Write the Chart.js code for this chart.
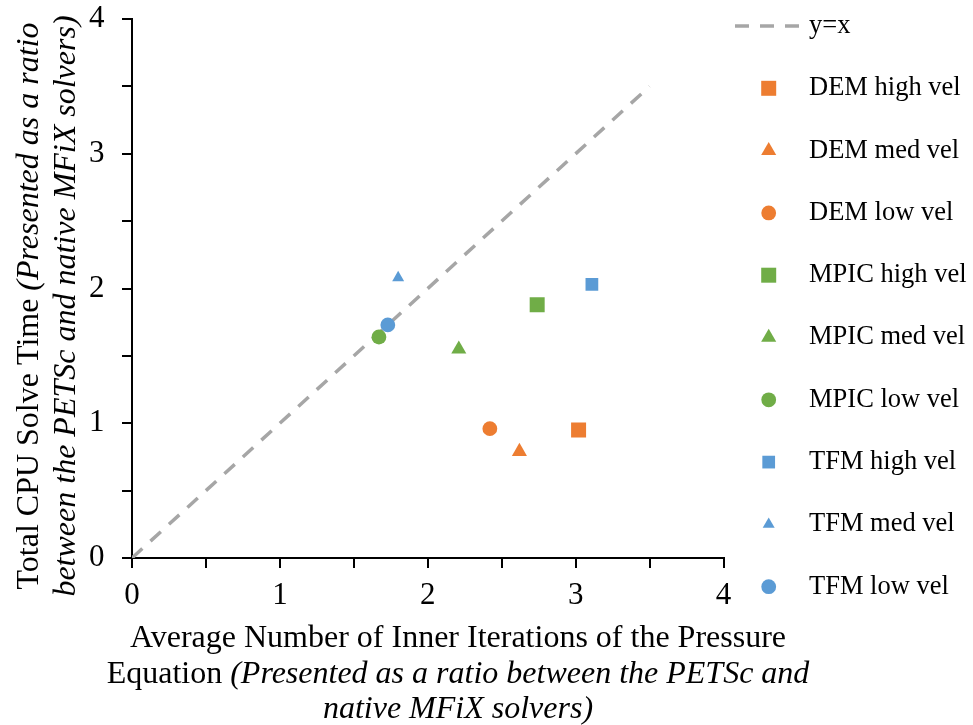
<!DOCTYPE html>
<html>
<head>
<meta charset="utf-8">
<script src="https://cdn.jsdelivr.net/npm/chart.js@4.4.1/dist/chart.umd.min.js"></script>
<style>
  html, body { margin: 0; padding: 0; background: #ffffff; }
  #wrap { position: relative; width: 973px; height: 725px; }
</style>
</head>
<body>
<div id="wrap"><canvas id="c" width="973" height="725"></canvas></div>
<script>
// ---------------- DATA ----------------
const categories = ['DEM high vel', 'DEM med vel', 'DEM low vel',
                    'MPIC high vel', 'MPIC med vel', 'MPIC low vel',
                    'TFM high vel', 'TFM med vel', 'TFM low vel'];
const xValues = [3.02, 2.62, 2.42, 2.74, 2.21, 1.67, 3.11, 1.80, 1.73];
const yValues = [0.95, 0.79, 0.96, 1.88, 1.55, 1.64, 2.03, 2.08, 1.73];
const refLineLabel = 'y=x';
const refLineX = [0, 3.5];
const refLineY = [0, 3.5];
const xTickLabels = ['0', '1', '2', '3', '4'];
const yTickLabels = ['0', '1', '2', '3', '4'];
const xTitleLines = [
  [['Average Number of Inner Iterations of the Pressure', false]],
  [['Equation ', false], ['(Presented as a ratio between the PETSc and', true]],
  [['native MFiX solvers)', true]]
];
const yTitleLines = [
  [['Total CPU Solve Time ', false], ['(Presented as a ratio', true]],
  [['between the PETSc and native MFiX solvers)', true]]
];

// ---------------- STYLE ----------------
const FONT = '"Liberation Serif", "Times New Roman", serif';
const ORANGE = '#ED7D31', GREEN = '#70AD47', BLUE = '#5B9BD5';
function styleFor(i) {
  const color = [ORANGE, GREEN, BLUE][Math.floor(i / 3)];
  const shape = ['rect', 'triangle', 'circle'][i % 3];
  const small = i >= 6;
  let radius;
  if (shape === 'rect') radius = small ? 9.0 : 10.6;
  else if (shape === 'triangle') radius = small ? 6.9 : 8.7;
  else radius = 7.4;
  return { color, shape, radius };
}

const datasets = [];
datasets.push({
  label: refLineLabel,
  data: refLineX.map((x, k) => ({ x: x, y: refLineY[k] })),
  showLine: true,
  borderColor: '#A6A6A6',
  borderWidth: 3.5,
  borderDash: [14, 11],
  pointRadius: 0,
  fill: false,
  order: 100
});
categories.forEach((name, i) => {
  const s = styleFor(i);
  datasets.push({
    label: name,
    data: [{ x: xValues[i], y: yValues[i] }],
    pointStyle: s.shape,
    pointRadius: s.radius,
    pointBackgroundColor: s.color,
    pointBorderColor: s.color,
    pointBorderWidth: 0,
    showLine: false,
    order: 50 - i
  });
});

function drawRich(ctx, segs, cx, baseline, size) {
  const widths = segs.map(([t, it]) => {
    ctx.font = (it ? 'italic ' : '') + size + 'px ' + FONT;
    return ctx.measureText(t).width;
  });
  const total = widths.reduce((a, b) => a + b, 0);
  let x = cx - total / 2;
  segs.forEach(([t, it], k) => {
    ctx.font = (it ? 'italic ' : '') + size + 'px ' + FONT;
    ctx.fillText(t, x, baseline);
    x += widths[k];
  });
}

function drawMarker(ctx, shape, color, r, x, y) {
  ctx.fillStyle = color;
  ctx.beginPath();
  if (shape === 'rect') {
    const h = Math.SQRT1_2 * r;
    ctx.rect(x - h, y - h, 2 * h, 2 * h);
  } else if (shape === 'triangle') {
    ctx.moveTo(x, y - r);
    ctx.lineTo(x + 0.866 * r, y + 0.5 * r);
    ctx.lineTo(x - 0.866 * r, y + 0.5 * r);
    ctx.closePath();
  } else {
    ctx.arc(x, y, r, 0, Math.PI * 2);
  }
  ctx.fill();
}

const decorPlugin = {
  id: 'decor',
  afterDraw(chart) {
    const ctx = chart.ctx;
    ctx.save();
    ctx.fillStyle = '#000';
    ctx.textBaseline = 'alphabetic';
    ctx.textAlign = 'left';
    // x axis title
    const xb = [647, 683, 718];
    xTitleLines.forEach((segs, k) => drawRich(ctx, segs, 458, xb[k], 32));
    // y axis title
    const yb = [38, 75];
    yTitleLines.forEach((segs, k) => {
      ctx.save();
      ctx.translate(yb[k], 306);
      ctx.rotate(-Math.PI / 2);
      drawRich(ctx, segs, 0, 0, 32);
      ctx.restore();
    });
    // legend
    const rowY = (k) => 26 + 62.3 * k;
    ctx.strokeStyle = '#A6A6A6';
    ctx.lineWidth = 3.5;
    ctx.setLineDash([14, 11]);
    ctx.beginPath();
    ctx.moveTo(735, rowY(0));
    ctx.lineTo(803, rowY(0));
    ctx.stroke();
    ctx.setLineDash([]);
    ctx.font = '26.5px ' + FONT;
    ctx.textBaseline = 'middle';
    ctx.fillStyle = '#000';
    ctx.fillText(refLineLabel, 809, rowY(0));
    categories.forEach((name, i) => {
      const s = styleFor(i);
      drawMarker(ctx, s.shape, s.color, s.radius, 768.7, rowY(i + 1));
      ctx.fillStyle = '#000';
      ctx.fillText(name, 809, rowY(i + 1));
    });
    ctx.restore();
  }
};

const tickCb = (labels) => function (value) {
  const idx = Math.round(value);
  return Math.abs(value - idx) < 1e-9 ? labels[idx] : '';
};

new Chart(document.getElementById('c'), {
  type: 'scatter',
  data: { datasets },
  options: {
    responsive: false,
    animation: false,
    events: [],
    layout: { padding: { left: 89, top: 19, right: 249.5, bottom: 0 } },
    plugins: { legend: { display: false }, tooltip: { enabled: false } },
    scales: {
      x: {
        type: 'linear', min: 0, max: 4,
        ticks: { stepSize: 0.5, callback: tickCb(xTickLabels), color: '#000',
                 font: { family: FONT, size: 31 }, padding: 9, maxRotation: 0, autoSkip: false },
        grid: { drawOnChartArea: false, drawTicks: true, tickLength: 10, color: '#000', lineWidth: 2 },
        border: { display: true, color: '#000', width: 2 },
        afterFit: (s) => { s.height = 167; }
      },
      y: {
        type: 'linear', min: 0, max: 4,
        ticks: { stepSize: 0.5, callback: tickCb(yTickLabels), color: '#000',
                 font: { family: FONT, size: 31 }, padding: 0, crossAlign: 'far', autoSkip: false },
        grid: { drawOnChartArea: false, drawTicks: true, tickLength: 10, color: '#000', lineWidth: 2 },
        border: { display: true, color: '#000', width: 2 },
        afterFit: (s) => { s.width = 43; }
      }
    }
  },
  plugins: [decorPlugin]
});
</script>
</body>
</html>
